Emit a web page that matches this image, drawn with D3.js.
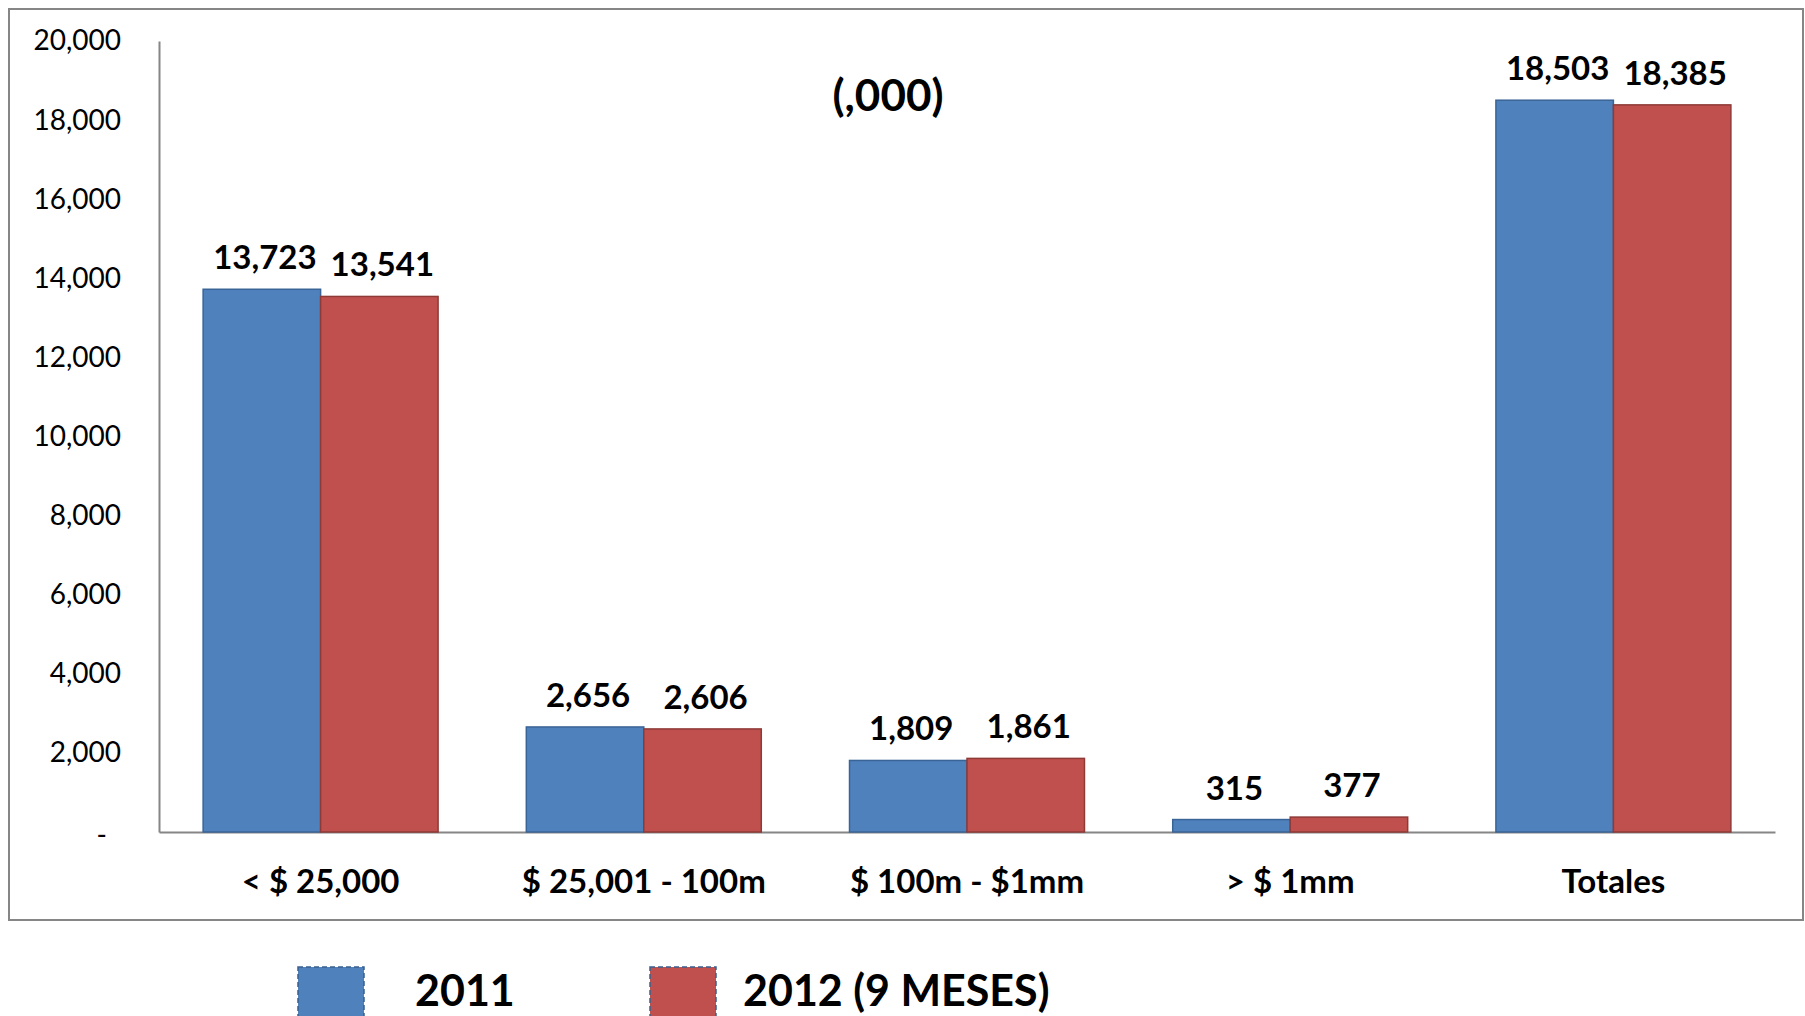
<!DOCTYPE html>
<html>
<head>
<meta charset="utf-8">
<script src="https://cdn.jsdelivr.net/npm/d3@7"></script>
<style>
  html, body { margin: 0; padding: 0; background: #fff; }
  svg { display: block; font-family: Lato, "Open Sans", sans-serif; }
</style>
</head>
<body>
<svg id="chart" width="1805" height="1016"></svg>
<script>
const categories = ["< $ 25,000", "$ 25,001 - 100m", "$ 100m - $1mm", "> $ 1mm", "Totales"];
const seriesNames = ["2011", "2012 (9 MESES)"];
const values2011 = [13723, 2656, 1809, 315, 18503];
const values2012 = [13541, 2606, 1861, 377, 18385];
const yTicks = [0, 2000, 4000, 6000, 8000, 10000, 12000, 14000, 16000, 18000, 20000];
const subtitle = "(,000)";

const colors = ["#4F81BD", "#C0504D"];
const strokes = ["#3A6496", "#8E3A37"];

const svg = d3.select("#chart");

// outer chart border
svg.append("rect")
  .attr("x", 9).attr("y", 9).attr("width", 1794).attr("height", 911)
  .attr("fill", "#fff").attr("stroke", "#868686").attr("stroke-width", 2);

const plot = { left: 159, right: 1775, top: 41, bottom: 832 };

const x0 = d3.scaleBand().domain(categories)
  .range([plot.left, plot.right]).paddingInner(0.273).paddingOuter(0.1365);
const x1 = d3.scaleBand().domain([0, 1]).range([0, x0.bandwidth()]).padding(0);
const y = d3.scaleLinear().domain([0, 20000]).range([plot.bottom, plot.top]);

// y axis
const yAxis = d3.axisLeft(y).tickValues(yTicks).tickSize(0).tickPadding(38)
  .tickFormat(d => d === 0 ? "-" : d3.format(",")(d));
const gy = svg.append("g").attr("transform", `translate(${plot.left},0)`).call(yAxis);
gy.select(".domain").attr("stroke", "#868686").attr("stroke-width", 2);
gy.selectAll(".tick text").attr("font-size", 28).attr("fill", "#000")
  .attr("font-family", "Lato, sans-serif");
gy.selectAll(".tick").filter(d => d === 0).select("text").attr("x", -52).attr("dy", "0.45em");

// x axis
const xAxis = d3.axisBottom(x0).tickSize(0).tickPadding(38);
const gx = svg.append("g").attr("transform", `translate(0,${plot.bottom})`).call(xAxis);
gx.select(".domain").attr("stroke", "#868686").attr("stroke-width", 2);
gx.selectAll(".tick text").attr("font-size", 33).attr("font-weight", "bold")
  .attr("fill", "#000").attr("font-family", "Lato, sans-serif");

// bars
const series = [values2011, values2012];
const data = [];
categories.forEach((c, i) => {
  series.forEach((s, k) => data.push({ cat: c, k: k, v: s[i] }));
});

svg.append("g").selectAll("rect").data(data).join("rect")
  .attr("x", d => x0(d.cat) + x1(d.k))
  .attr("y", d => y(d.v))
  .attr("width", x1.bandwidth())
  .attr("height", d => y(0) - y(d.v))
  .attr("fill", d => colors[d.k])
  .attr("stroke", d => strokes[d.k])
  .attr("stroke-width", 1.5);

// value labels
svg.append("g").selectAll("text").data(data).join("text")
  .attr("x", d => x0(d.cat) + x1(d.k) + x1.bandwidth() / 2 + 3)
  .attr("y", d => y(d.v) - 20)
  .attr("text-anchor", "middle")
  .attr("font-size", 33).attr("font-weight", "bold").attr("fill", "#000")
  .text(d => d3.format(",")(d.v));

// subtitle
svg.append("text").attr("x", 888).attr("y", 111).attr("text-anchor", "middle")
  .attr("font-size", 44).attr("font-weight", "bold").attr("fill", "#000")
  .text(subtitle);

// legend
const legendX = [298, 650];
const legendTextX = [415, 743];
const lg = svg.append("g");
seriesNames.forEach((name, k) => {
  lg.append("rect").attr("x", legendX[k]).attr("y", 967).attr("width", 66).attr("height", 60)
    .attr("fill", colors[k]).attr("stroke", "#3A5F8F").attr("stroke-width", 1.5)
    .attr("stroke-dasharray", "5,3");
  lg.append("text").attr("x", legendTextX[k]).attr("y", 1006)
    .attr("font-size", 43).attr("font-weight", "bold").attr("fill", "#000")
    .text(name);
});
</script>
</body>
</html>
